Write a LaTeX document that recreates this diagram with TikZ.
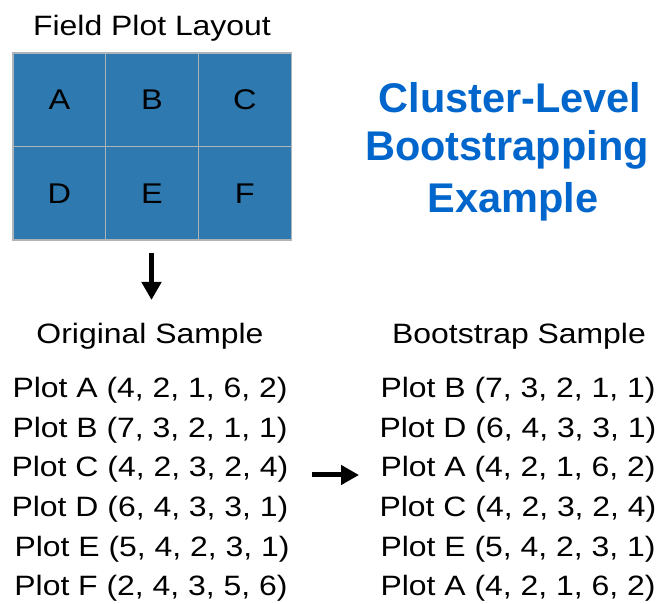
\documentclass[tikz,border=0pt]{standalone}
\usepackage{fontspec}
\setmainfont{Liberation Sans}[FakeStretch=1.14]
\newfontfamily\titlefont{Liberation Sans}
\usetikzlibrary{arrows.meta}
\definecolor{cellblue}{RGB}{47,121,177}
\definecolor{titleblue}{RGB}{0,102,204}
\definecolor{cellline}{RGB}{175,180,185}
\begin{document}
\begin{tikzpicture}[x=1pt,y=-1pt,
  cell/.style={draw=cellline,line width=1.2pt,fill=cellblue,minimum width=92.7pt,minimum height=93.5pt,inner sep=0pt,font=\fontsize{28.5}{34}\selectfont},
  lbl/.style={anchor=base,inner sep=0pt,font=\fontsize{28}{34}\selectfont},
  title/.style={anchor=base,inner sep=0pt,text=titleblue,font=\titlefont\bfseries\fontsize{41.5}{50}\selectfont},
  bigarrow/.style={line width=5pt,-{Triangle[length=18pt,width=19pt]}}]
\useasboundingbox (0,0) rectangle (657,604);
% field plot layout
\node[lbl] (fieldT) at (152,36) {Field Plot Layout};
\node[cell] (cA) at (59.35,99.75) {A};
\node[cell] (cB) at (152.05,99.75) {B};
\node[cell] (cC) at (244.75,99.75) {C};
\node[cell] (cD) at (59.35,193.25) {D};
\node[cell] (cE) at (152.05,193.25) {E};
\node[cell] (cF) at (244.75,193.25) {F};
% title
\node[title] (t1) at (510,113) {Cluster-Level};
\node[title] (t2) at (507,161) {Bootstrapping};
\node[title] (t3) at (513,212.5) {Example};
% down arrow
\coordinate (dTop) at (151.5,253);
\coordinate (dBot) at (151.5,300);
\draw[bigarrow] (dTop) -- (dBot);
% original sample
\node[lbl] (origT) at (150,344) {Original Sample};
\node[lbl] (o1) at (150,398) {Plot A (4, 2, 1, 6, 2)};
\node[lbl] (o2) at (150,437.5) {Plot B (7, 3, 2, 1, 1)};
\node[lbl] (o3) at (150,477) {Plot C (4, 2, 3, 2, 4)};
\node[lbl] (o4) at (150,516.5) {Plot D (6, 4, 3, 3, 1)};
\node[lbl] (o5) at (152,556) {Plot E (5, 4, 2, 3, 1)};
\node[lbl] (o6) at (151,595) {Plot F (2, 4, 3, 5, 6)};
% right arrow
\coordinate (rL) at (312,475);
\coordinate (rR) at (359,475);
\draw[bigarrow] (rL) -- (rR);
% bootstrap sample
\node[lbl] (bootT) at (519,344) {Bootstrap Sample};
\node[lbl] (b1) at (518,398) {Plot B (7, 3, 2, 1, 1)};
\node[lbl] (b2) at (518,437.5) {Plot D (6, 4, 3, 3, 1)};
\node[lbl] (b3) at (518,477) {Plot A (4, 2, 1, 6, 2)};
\node[lbl] (b4) at (518,516.5) {Plot C (4, 2, 3, 2, 4)};
\node[lbl] (b5) at (518,556) {Plot E (5, 4, 2, 3, 1)};
\node[lbl] (b6) at (518,595) {Plot A (4, 2, 1, 6, 2)};
\end{tikzpicture}
\end{document}
